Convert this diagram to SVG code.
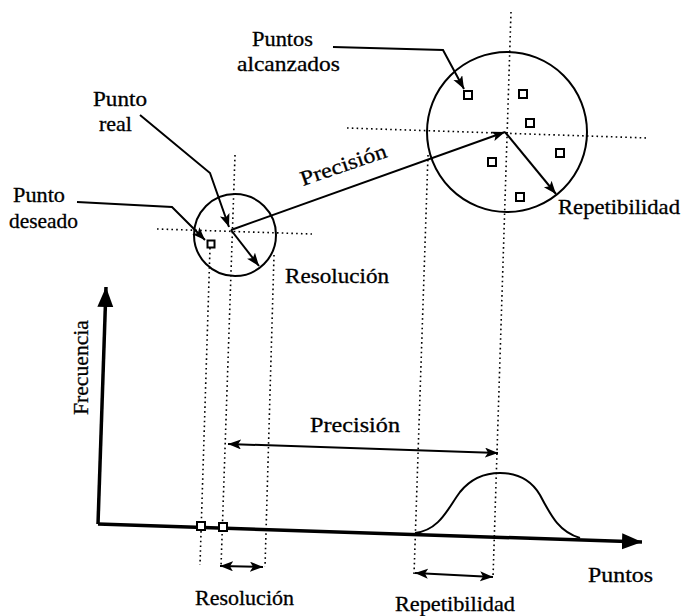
<svg xmlns="http://www.w3.org/2000/svg" width="681" height="616" viewBox="0 0 681 616">
<style>
text{font-family:"Liberation Serif","Times New Roman",serif;font-size:21px;fill:#000;stroke:#000;stroke-width:0.3}
.dot{fill:none;stroke:#000;stroke-width:1.6;stroke-dasharray:1.6 3.2}
.ln{fill:none;stroke:#000;stroke-width:2}
.ax{fill:none;stroke:#000;stroke-width:3.5}
.sq{fill:#fff;stroke:#000;stroke-width:2}
.circ{fill:none;stroke:#000;stroke-width:2}
</style>
<defs>
<marker id="ah" markerUnits="userSpaceOnUse" markerWidth="14" markerHeight="12" refX="13" refY="5" orient="auto-start-reverse">
<path d="M0,0 L13,5 L0,10 L3,5 z" fill="#000"/>
</marker>
<marker id="big" markerUnits="userSpaceOnUse" markerWidth="22" markerHeight="18" refX="20" refY="8" orient="auto">
<path d="M0,0 L20,8 L0,16 z" fill="#000"/>
</marker>
</defs>
<g id="guides">
<line class="dot" x1="157" y1="229" x2="312" y2="234"/>
<line class="dot" x1="235" y1="155" x2="221" y2="567"/>
<line class="dot" x1="210" y1="248" x2="200" y2="565"/>
<line class="dot" x1="274" y1="255" x2="265" y2="567"/>
<line class="dot" x1="347" y1="128" x2="648" y2="138"/>
<line class="dot" x1="511" y1="12" x2="493" y2="578"/>
<line class="dot" x1="428" y1="155" x2="414" y2="575"/>
</g>
<g id="small-circle"><circle class="circ" cx="235" cy="235" r="41"/></g>
<g id="big-circle"><circle class="circ" cx="507" cy="132" r="80"/></g>
<g id="points">
<rect class="sq" x="207.5" y="240.5" width="7" height="7"/>
<rect class="sq" x="464" y="91" width="8" height="8"/>
<rect class="sq" x="519" y="90" width="8" height="8"/>
<rect class="sq" x="526" y="119" width="8" height="8"/>
<rect class="sq" x="556" y="149" width="8" height="8"/>
<rect class="sq" x="488" y="158" width="8" height="8"/>
<rect class="sq" x="516" y="193" width="8" height="8"/>
</g>
<g id="connectors">
<path class="ln" d="M77,202 L172,207 L205,240" marker-end="url(#ah)"/>
<path class="ln" d="M140,115 L210,173 L229,227" marker-end="url(#ah)"/>
<path class="ln" d="M333,47 L443,50 L464,89" marker-end="url(#ah)"/>
<path class="ln" d="M231,230 L505,132" marker-end="url(#ah)"/>
<path class="ln" d="M231,230 L259,266" marker-end="url(#ah)"/>
<path class="ln" d="M505,132 L556,194" marker-end="url(#ah)"/>
<path class="ln" d="M228,444 L498,453" marker-start="url(#ah)" marker-end="url(#ah)"/>
<path class="ln" d="M220,566 L263,567" marker-start="url(#ah)" marker-end="url(#ah)"/>
<path class="ln" d="M415,573 L493,577" marker-start="url(#ah)" marker-end="url(#ah)"/>
</g>
<g id="axes">
<path class="ax" d="M98,524 L106,287" marker-end="url(#big)"/>
<path class="ax" d="M98,524 L642,542" marker-end="url(#big)"/>
<rect class="sq" x="197" y="522" width="8" height="8"/>
<rect class="sq" x="219" y="523" width="8" height="8"/>
</g>
<g id="curve">
<path class="ln" d="M415,533 C440,530 448,508 460,492 C473,476 488,473 500,473 C514,473 530,478 540,495 C552,518 560,532 580,538"/>
</g>
<g id="labels">
<text x="252" y="46" textLength="61" lengthAdjust="spacingAndGlyphs">Puntos</text>
<text x="237" y="71" textLength="103" lengthAdjust="spacingAndGlyphs">alcanzados</text>
<text x="93" y="106" textLength="54" lengthAdjust="spacingAndGlyphs">Punto</text>
<text x="99" y="131" textLength="33" lengthAdjust="spacingAndGlyphs">real</text>
<text x="13" y="202" textLength="52" lengthAdjust="spacingAndGlyphs">Punto</text>
<text x="9" y="228" textLength="69" lengthAdjust="spacingAndGlyphs">deseado</text>
<text x="285" y="283" textLength="104" lengthAdjust="spacingAndGlyphs">Resolución</text>
<text transform="translate(303,186) rotate(-19)" textLength="90" lengthAdjust="spacingAndGlyphs">Precisión</text>
<text x="558" y="214" textLength="122" lengthAdjust="spacingAndGlyphs">Repetibilidad</text>
<text transform="translate(88,415) rotate(-90)" textLength="95" lengthAdjust="spacingAndGlyphs">Frecuencia</text>
<text x="310" y="432" textLength="90" lengthAdjust="spacingAndGlyphs">Precisión</text>
<text x="195" y="605" textLength="99" lengthAdjust="spacingAndGlyphs">Resolución</text>
<text x="395" y="611" textLength="120" lengthAdjust="spacingAndGlyphs">Repetibilidad</text>
<text x="588" y="582" textLength="65" lengthAdjust="spacingAndGlyphs">Puntos</text>
</g>
</svg>
